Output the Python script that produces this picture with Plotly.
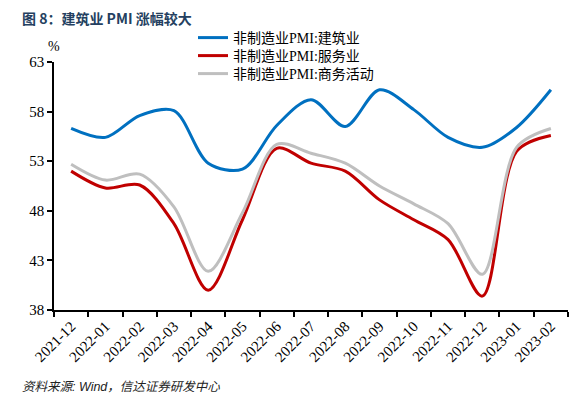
import plotly.graph_objects as go

months = ["2021-12", "2022-01", "2022-02", "2022-03", "2022-04", "2022-05", "2022-06",
          "2022-07", "2022-08", "2022-09", "2022-10", "2022-11", "2022-12", "2023-01", "2023-02"]
construction = [56.3, 55.4, 57.6, 58.1, 52.8, 52.2, 56.6, 59.2, 56.5, 60.2, 58.2, 55.4, 54.4, 56.4, 60.2]
services = [52.0, 50.3, 50.6, 46.7, 40.0, 47.1, 54.3, 52.8, 52.0, 49.1, 47.1, 45.1, 39.4, 54.0, 55.6]
business = [52.7, 51.1, 51.7, 48.4, 41.9, 47.8, 54.7, 53.8, 52.8, 50.5, 48.7, 46.7, 41.6, 54.4, 56.3]
names = ["非制造业PMI:建筑业", "非制造业PMI:服务业", "非制造业PMI:商务活动"]
colors = ["#0070C0", "#C00000", "#BFBFBF"]
yticks = [38, 43, 48, 53, 58, 63]

serif = "Liberation Serif, Times New Roman, Noto Sans CJK SC, serif"

W, H = 582, 397
L, R, T, B = 54, 14, 62, 87
pw = W - L - R
ph = H - T - B


def px_x(x):
    return (x - L) / pw


def px_y(y):
    return (H - B - y) / ph


legend_ids = ["legend", "legend2", "legend3"]
legend_rows = [38, 56, 74]

fig = go.Figure()
for name, vals, col, lid in zip(names, [construction, services, business], colors, legend_ids):
    fig.add_trace(go.Scatter(
        x=months, y=vals, name=name, mode="lines", legend=lid,
        line=dict(color=col, width=3, shape="spline", smoothing=0.9),
    ))

legend_common = dict(xanchor="left", yanchor="middle", bgcolor="rgba(0,0,0,0)",
                     font=dict(size=14, family=serif), itemwidth=30)

fig.update_layout(
    width=W, height=H,
    margin=dict(l=L, r=R, t=T, b=B, autoexpand=False),
    paper_bgcolor="white", plot_bgcolor="white",
    font=dict(family=serif, size=14, color="black"),
    showlegend=True,
    legend=dict(x=px_x(193), y=px_y(legend_rows[0]), **legend_common),
    legend2=dict(x=px_x(193), y=px_y(legend_rows[1]), **legend_common),
    legend3=dict(x=px_x(193), y=px_y(legend_rows[2]), **legend_common),
    xaxis=dict(
        type="category", range=[-0.5, 14.5],
        showline=True, linecolor="black", linewidth=1.5,
        ticks="outside", ticklen=5, tickcolor="black", tickwidth=1.5,
        tickson="boundaries", tickangle=-45,
        tickfont=dict(size=15, family=serif),
        showgrid=False, zeroline=False,
    ),
    yaxis=dict(
        range=[38, 63], tickvals=yticks,
        showline=True, linecolor="black", linewidth=1.5,
        ticks="outside", ticklen=5, tickcolor="black", tickwidth=1.5,
        tickfont=dict(size=15, family=serif),
        showgrid=False, zeroline=False,
    ),
)

fig.add_annotation(text="<b>图 8：建筑业 PMI 涨幅较大</b>", x=px_x(20), y=px_y(18),
                   xref="paper", yref="paper", xanchor="left", yanchor="middle", showarrow=False,
                   font=dict(size=14, color="#243F60", family="Noto Sans CJK SC, Liberation Sans, sans-serif"))
fig.add_annotation(text="%", x=px_x(54), y=px_y(46),
                   xref="paper", yref="paper", xanchor="center", yanchor="middle", showarrow=False,
                   font=dict(size=14, family=serif))
fig.add_annotation(text="<i>资料来源: Wind，信达证券研发中心</i>", x=px_x(20), y=px_y(387),
                   xref="paper", yref="paper", xanchor="left", yanchor="middle", showarrow=False,
                   font=dict(size=12.5, color="#222222", family="Liberation Sans, Noto Sans CJK SC, sans-serif"))

fig.write_html("out.html", config={"displayModeBar": False},
               post_script="document.body.style.margin='0';document.body.style.padding='0';")
